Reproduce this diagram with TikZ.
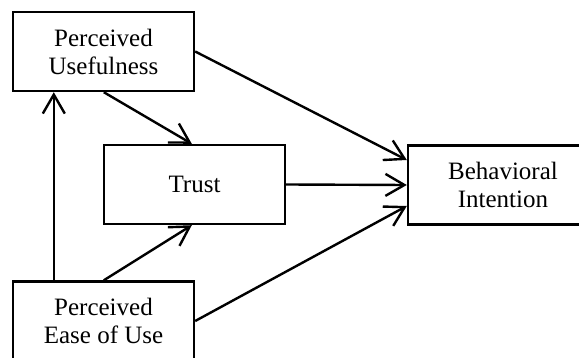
\documentclass[tikz,border=0pt]{standalone}
\usepackage{fontspec}
\setmainfont{Liberation Serif}
\usetikzlibrary{arrows.meta}
\begin{document}
\begin{tikzpicture}[x=1pt,y=-1pt,
  box/.style={draw, line width=2.4pt, minimum width=181pt, minimum height=79pt, align=center, inner sep=0pt, font=\fontsize{25}{28}\selectfont},
  conn/.style={line width=2.4pt, -{Straight Barb[length=19pt,width=22pt,line width=2.4pt]}}]
\useasboundingbox (0,0) rectangle (579,358);
\node[box] (pu) at (103.5,51.5) {Perceived\\Usefulness};
\node[box] (trust) at (194.5,184.5) {Trust};
\node[box, minimum width=190pt] (bi) at (503,185) {Behavioral\\Intention};
\node[box] (peou) at (103.5,321) {Perceived\\Ease of Use};
\draw[conn] ([xshift=42pt]peou.north west) -- ([xshift=42pt]pu.south west);
\draw[conn] ([xshift=92pt]pu.south west) -- ([xshift=89pt]trust.north west);
\draw[conn] ([xshift=92pt]peou.north west) -- ([xshift=89pt]trust.south west);
\draw[conn] (pu.east) -- ([yshift=25pt]bi.west);
\draw[conn] (trust.east) -- (bi.west);
\draw[conn] (peou.east) -- ([yshift=-21pt]bi.west);
\end{tikzpicture}
\end{document}
